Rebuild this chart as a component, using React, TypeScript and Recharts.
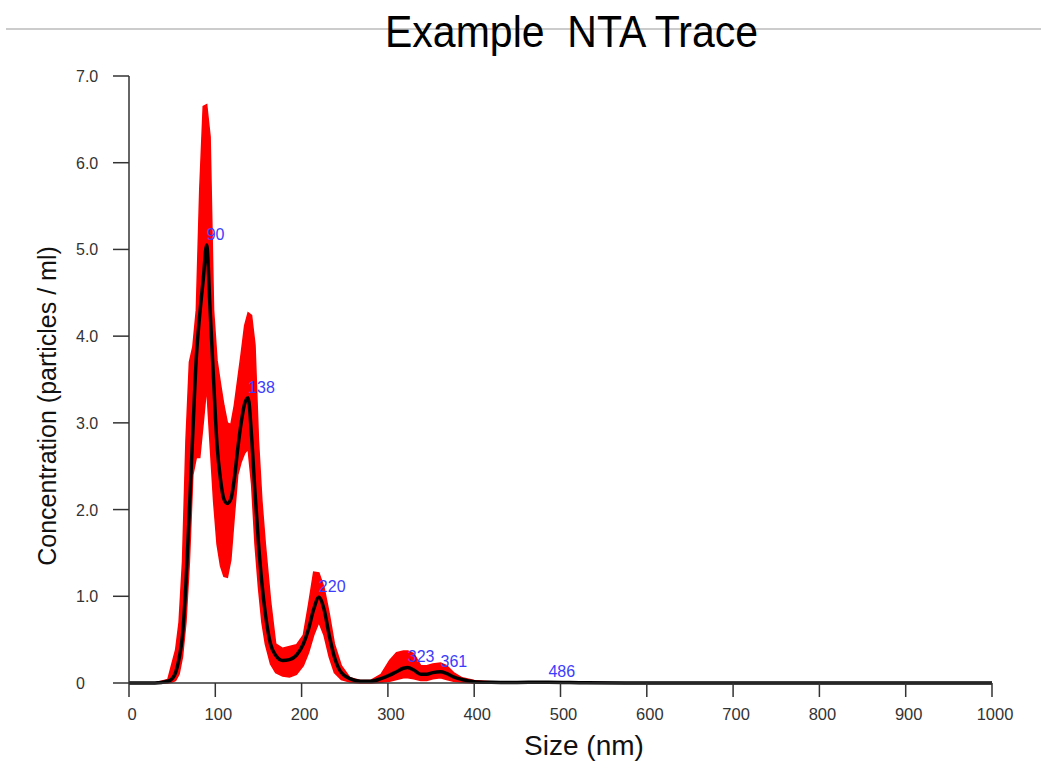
import { ComposedChart, Area, Line, XAxis, YAxis, LabelList } from 'recharts'

// particle size (nm) and concentration values
const sizes = [
  0, 30, 45, 50, 54, 58, 62, 66, 70, 74, 78, 82, 86, 90, 94, 98, 102, 106, 110, 114,
  118, 122, 126, 130, 134, 138, 142, 146, 150, 154, 158, 164, 170, 178, 186, 194, 202, 208, 214, 220,
  226, 232, 238, 246, 256, 268, 280, 292, 302, 310, 318, 323, 330, 338, 345, 352, 361, 368, 376, 386,
  400, 420, 440, 486, 530, 600, 800, 1000,
]
const meanConc = [
  0, 0, 0.02, 0.05, 0.12, 0.28, 0.55, 1.15, 2.0, 2.9, 3.75, 4.25, 4.65, 5.05, 4.3, 3.5, 2.75, 2.35, 2.12, 2.07,
  2.12, 2.35, 2.7, 3.0, 3.22, 3.29, 2.85, 2.2, 1.62, 1.15, 0.8, 0.45, 0.32, 0.26, 0.27, 0.32, 0.45, 0.62, 0.85, 0.99,
  0.85, 0.55, 0.3, 0.12, 0.05, 0.02, 0.02, 0.05, 0.09, 0.13, 0.17, 0.18, 0.15, 0.1, 0.1, 0.12, 0.13, 0.11, 0.07, 0.04,
  0.015, 0.008, 0.005, 0.01, 0.003, 0, 0, 0,
]
const upperConc = [
  0, 0, 0.04, 0.23, 0.38, 0.7, 1.4, 2.8, 3.7, 3.88, 4.3, 5.7, 6.65, 6.67, 6.3, 4.3, 3.72, 3.45, 3.2, 3.0,
  2.98, 3.2, 3.5, 3.8, 4.12, 4.27, 4.24, 3.9, 2.8, 2.1, 1.6, 0.95, 0.45, 0.4, 0.42, 0.44, 0.55, 0.9, 1.28, 1.27,
  1.1, 0.8, 0.45, 0.2, 0.06, 0.03, 0.03, 0.1, 0.26, 0.35, 0.37, 0.37, 0.34, 0.2, 0.2, 0.22, 0.23, 0.2, 0.12, 0.06,
  0.03, 0.015, 0.01, 0.015, 0.005, 0, 0, 0,
]
const lowerConc = [
  0, 0, 0, 0.01, 0.03, 0.1, 0.3, 0.7, 1.4, 2.4, 2.6, 2.6, 3.0, 3.42, 2.75, 2.1, 1.6, 1.35, 1.23, 1.22,
  1.42, 1.92, 2.4, 2.55, 2.65, 2.7, 2.3, 1.6, 1.1, 0.7, 0.45, 0.22, 0.12, 0.08, 0.07, 0.1, 0.2, 0.35, 0.55, 0.7,
  0.55, 0.3, 0.12, 0.04, 0.01, 0, 0, 0.01, 0.02, 0.04, 0.06, 0.06, 0.05, 0.03, 0.03, 0.05, 0.06, 0.04, 0.02, 0.01,
  0, 0, 0, 0, 0, 0, 0, 0,
]
const peakSizes = [90, 138, 220, 323, 361, 486]
const xTicks = [0, 100, 200, 300, 400, 500, 600, 700, 800, 900, 1000]
const yTicks = [0, 1, 2, 3, 4, 5, 6, 7]

const data = sizes.map((size, i) => ({
  size,
  mean: meanConc[i],
  band: [lowerConc[i], upperConc[i]],
  peak: peakSizes.includes(size) ? String(size) : '',
}))

const FONT = '"Liberation Sans", Arial, sans-serif'
const AXIS = '#333'

function YTick({ x, y, payload }: any) {
  const v = payload.value as number
  return (
    <text x={x - 35} y={y} dy={6} fill={AXIS} fontSize={16} fontFamily={FONT}>
      {v === 0 ? '0' : v.toFixed(1)}
    </text>
  )
}

function PeakLabel({ x, y, value }: any) {
  if (!value) return null
  return (
    <text x={x} y={y - 5} fill="#3c3cff" fontSize={16} fontFamily={FONT}>
      {value}
    </text>
  )
}

export default function App() {
  return (
    <div style={{ position: 'absolute', left: 0, top: 0, width: 1041, height: 764, background: '#fff' }}>
      <ComposedChart width={1041} height={764} data={data} margin={{ top: 76, right: 49, bottom: 0, left: 0 }}>
        <XAxis
          dataKey="size"
          type="number"
          domain={[0, 1000]}
          ticks={xTicks}
          tickSize={14}
          tickMargin={11}
          height={81}
          stroke={AXIS}
          strokeWidth={1.5}
          tick={{ fill: AXIS, fontSize: 16.5, fontFamily: FONT, dx: 3 }}
        />
        <YAxis
          type="number"
          domain={[0, 7]}
          ticks={yTicks}
          width={129}
          tickSize={16}
          tickMargin={2}
          stroke={AXIS}
          strokeWidth={1.5}
          tick={<YTick />}
        />
        <Area
          type="linear"
          dataKey="band"
          stroke="#ff0000"
          strokeWidth={1.5}
          fill="#ff0000"
          fillOpacity={1}
          isAnimationActive={false}
        />
        <Line
          type="monotone"
          dataKey="mean"
          stroke="#000"
          strokeWidth={3.5}
          dot={false}
          activeDot={false}
          isAnimationActive={false}
        >
          <LabelList dataKey="peak" content={<PeakLabel />} />
        </Line>
      </ComposedChart>
      <svg width={1041} height={764} style={{ position: 'absolute', left: 0, top: 0, pointerEvents: 'none' }}>
        <line x1={6} y1={29} x2={1041} y2={29} stroke="#bbb" strokeWidth={1.5} />
        <text
          x={385}
          y={47}
          fontSize={44}
          fontFamily={FONT}
          fill="#000"
          textLength={373}
          lengthAdjust="spacingAndGlyphs"
          style={{ whiteSpace: 'pre' }}
        >
          {'Example  NTA Trace'}
        </text>
        <text
          x={0}
          y={0}
          fontSize={25}
          fontFamily={FONT}
          fill="#111"
          textAnchor="middle"
          transform="translate(56 406) rotate(-90)"
        >
          Concentration (particles / ml)
        </text>
        <text x={584} y={755} fontSize={28} fontFamily={FONT} fill="#111" textAnchor="middle">
          Size (nm)
        </text>
      </svg>
    </div>
  )
}
